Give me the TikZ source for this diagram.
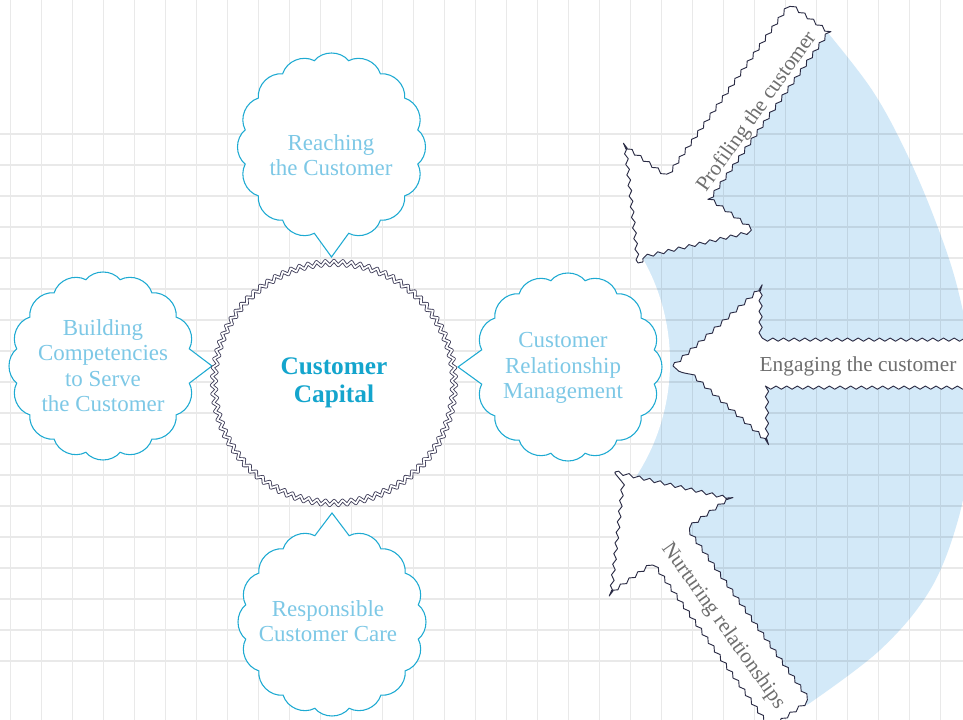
\documentclass[tikz,border=0pt]{standalone}
\usepackage{fontspec}
\setmainfont{Liberation Serif}
\usetikzlibrary{calc,decorations.pathmorphing}
\definecolor{cloudline}{HTML}{1EAAD2}
\definecolor{cloudtext}{HTML}{7DC8E6}
\definecolor{captext}{HTML}{14A5CD}
\definecolor{arrowtext}{HTML}{6E6E6E}
\definecolor{arrowc}{HTML}{2B2C45}
\definecolor{circc}{HTML}{3E3C58}
\definecolor{bluefill}{HTML}{D3E9F8}
\newcommand\mycloud[5]{%
  \filldraw[cloudshape] ($(#1,#2)+(#4+11.25:#3)$)
    \foreach \k in {1,...,15} { to[bend right=50] ($(#1,#2)+(#4+11.25+\k*22.5:#3)$) }
    -- ($(#1,#2)+(#4:#5)$) -- cycle;
}
\newcommand\myarrow[4]{%
  \begin{scope}[shift={(#1,#2)}, rotate=#3]
    \filldraw[arrowshape] (0,0) -- (89,79) -- (89,24) -- ({89+#4},24) -- ({89+#4},-24) -- (89,-24) -- (89,-79) -- cycle;
  \end{scope}
}
\begin{document}
\begin{tikzpicture}[x=0.75pt,y=0.75pt,
  gridline/.style={draw=black, draw opacity=0.085, line width=1pt},
  cloudshape/.style={draw=cloudline, fill=white, line width=0.8pt},
  ctext/.style={text=cloudtext, align=center, font=\fontsize{17.2}{19}\selectfont},
  atext/.style={text=arrowtext, inner sep=1pt, font=\fontsize{16}{19}\selectfont},
  arrowshape/.style={draw=arrowc, fill=white, line width=0.7pt, line join=round, decorate, decoration={snake, segment length=8pt, amplitude=1.2pt}},
  capcircle/.style={circle, minimum size=180pt, fill=white, draw=circc, double=white, double distance=1.3pt, line width=0.65pt, line join=round, decorate, decoration={zigzag, segment length=6.5pt, amplitude=1.8pt}, text=captext, align=center, font=\bfseries\fontsize{19}{21}\selectfont}
]
\useasboundingbox (0,0) rectangle (963,720);
\clip (0,0) rectangle (963,720);
\fill[white] (0,0) rectangle (963,720);
% blue region
\fill[bluefill] plot[smooth, tension=0.6] coordinates {(828,687) (872,630) (905,570) (935,500) (958,430) (972,350) (970,270) (958,200) (930,130) (880,70) (807,15)}
  -- (760,60) -- (700,140) -- (630,240) -- (620,350) -- (640,458) -- (700,550) -- (770,640) -- cycle;
\fill[white] (460,358) circle[radius=210];
% grid
\draw[gridline] \foreach \i in {0,...,30} { ({10.7+31*\i},0) -- ({10.7+31*\i},720) }
  \foreach \j in {0,...,17} { (0,{586-31*\j}) -- (963,{586-31*\j}) };
% clouds
\mycloud{331.5}{573}{88}{-90}{110}
\mycloud{103}{354}{88}{0}{109}
\mycloud{332}{98}{88}{90}{109}
\mycloud{568}{353}{88}{180}{110}
\node[ctext] (reach) at (331,565) {Reaching\\the Customer};
\node[ctext] (build) at (103,354.5) {Building\\Competencies\\to Serve\\the Customer};
\node[ctext] (crm) at (563,352) {Customer\\Relationship\\Management};
\node[ctext] (resp) at (328,99) {Responsible\\Customer Care};
% central circle
\node[capcircle] (cc) at (334,337) {Customer\\Capital};
% arrows
\myarrow{638}{457}{54.6}{207}
\myarrow{673}{354}{0}{240}
\myarrow{615}{248}{-54.6}{203}
\node[atext, rotate=54.6] (profiling) at (757,608) {Profiling the customer};
\node[atext] (engaging) at (858,354) {Engaging the customer};
\node[atext, rotate=-54.6] (nurturing) at (723,94) {Nurturing relationships};
\end{tikzpicture}
\end{document}
